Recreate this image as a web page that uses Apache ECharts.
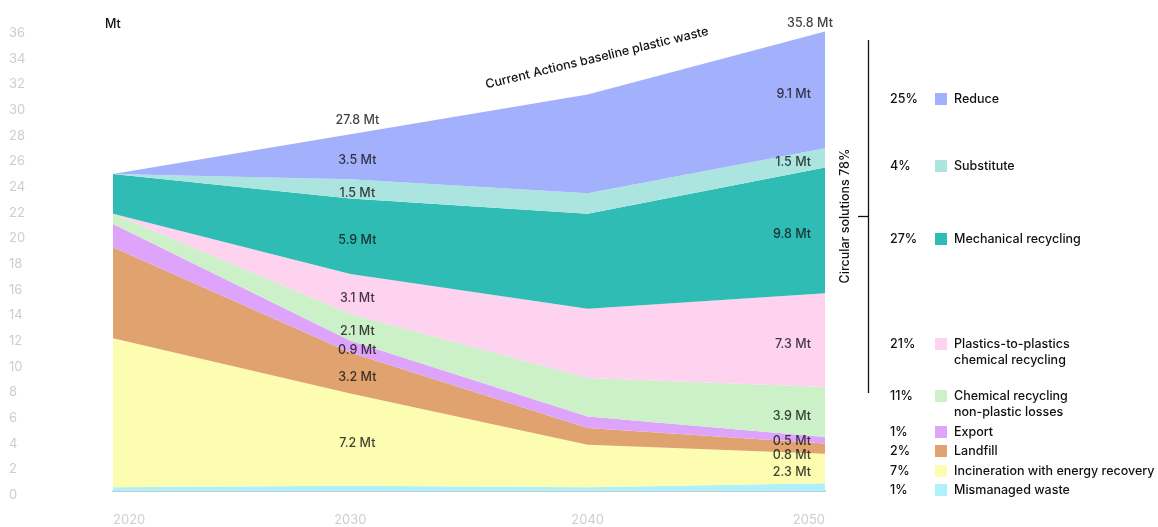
<!DOCTYPE html>
<html>
<head>
<meta charset="utf-8">
<script src="https://cdn.jsdelivr.net/npm/echarts@6/dist/echarts.min.js"></script>
<style>
  html, body { margin: 0; padding: 0; background: #ffffff; }
  #chart { width: 1158px; height: 527px; }
</style>
</head>
<body>
<div id="chart"></div>
<script>
// Plastic waste pathway, Mt per year
const years = ['2020', '2030', '2040', '2050'];
const yTicks = { min: 0, max: 36, step: 2 };

// Stack order, bottom to top
const mismanaged         = [0.3, 0.4, 0.3, 0.6];
const incineration       = [11.6, 7.2, 3.3, 2.3];
const landfill           = [7.1, 3.2, 1.3, 0.8];
const exportWaste        = [1.8, 0.9, 0.9, 0.5];
const chemLosses         = [0.8, 2.1, 3.0, 3.9];
const plasticsToPlastics = [0.0, 3.1, 5.4, 7.3];
const mechanical         = [3.1, 5.9, 7.4, 9.8];
const substitute         = [0.0, 1.5, 1.6, 1.5];
const reduce             = [0.0, 3.5, 7.7, 9.1];

// Share of 2050 waste handled by each route
const shares = {
  reduce: '25%', substitute: '4%', mechanical: '27%', plasticsToPlastics: '21%',
  chemLosses: '11%', exportWaste: '1%', landfill: '2%', incineration: '7%', mismanaged: '1%'
};
const circularLabel = 'Circular solutions 78%';
const baselineLabel = 'Current Actions baseline plastic waste';
const unitLabel = 'Mt';

// Years whose values are printed inside the bands
const labelledYears = [1, 3];

// nudge: extra vertical shift (px) for the thin 2050 bands so their labels do not collide
const layers = [
  { key: 'mismanaged',         name: 'Mismanaged waste',                         values: mismanaged,         color: '#aef0fb', labelled: false, nudge: 0 },
  { key: 'incineration',       name: 'Incineration with energy recovery',        values: incineration,       color: '#fdfdb1', labelled: true,  nudge: 0 },
  { key: 'landfill',           name: 'Landfill',                                 values: landfill,           color: '#e0a26f', labelled: true,  nudge: 3 },
  { key: 'exportWaste',        name: 'Export',                                   values: exportWaste,        color: '#dea3fb', labelled: true,  nudge: -3 },
  { key: 'chemLosses',         name: 'Chemical recycling\nnon-plastic losses',   values: chemLosses,         color: '#ccf0c7', labelled: true,  nudge: 0 },
  { key: 'plasticsToPlastics', name: 'Plastics-to-plastics\nchemical recycling', values: plasticsToPlastics, color: '#fdd3ef', labelled: true,  nudge: 0 },
  { key: 'mechanical',         name: 'Mechanical recycling',                     values: mechanical,         color: '#2ebcb4', labelled: true,  nudge: 0 },
  { key: 'substitute',         name: 'Substitute',                               values: substitute,         color: '#ace5e0', labelled: true,  nudge: 0 },
  { key: 'reduce',             name: 'Reduce',                                   values: reduce,             color: '#a3b1fd', labelled: true,  nudge: 0 }
];

const FONT = 'Inter, "Noto Sans", sans-serif';
const INK = '#111111';
const TEXT_WEIGHT = 500;

// Stacked areas
const areaSeries = layers.map(l => ({
  name: l.name,
  type: 'line',
  stack: 'waste',
  data: l.values,
  symbol: 'none',
  lineStyle: { width: 0 },
  areaStyle: { color: l.color, opacity: 1 },
  itemStyle: { color: l.color },
  silent: true,
  z: 2
}));

// Band-value labels placed at the middle of each band
const bandPoints = [];
const base = years.map(() => 0);
layers.forEach(l => {
  if (l.labelled) {
    labelledYears.forEach(i => {
      const v = l.values[i];
      const isLast = i === years.length - 1;
      bandPoints.push({
        value: [i, base[i] + v / 2, v],
        label: isLast
          ? { position: 'left', distance: 14, offset: [0, 4 + l.nudge] }
          : { position: 'inside', offset: [7, 4] }
      });
    });
  }
  years.forEach((_, i) => { base[i] += l.values[i]; });
});
const totals = base.map(v => Math.round(v * 10) / 10);

const totalPoints = labelledYears.map(i => ({
  value: [i, totals[i]],
  label: i === years.length - 1
    ? { position: 'top', distance: 2, offset: [-15, 0] }
    : { position: 'top', distance: 7, offset: [7, 0] }
}));

const labelSeries = [
  {
    type: 'scatter',
    data: bandPoints,
    symbolSize: 0,
    silent: true,
    z: 5,
    label: {
      show: true, color: INK, fontFamily: FONT, fontSize: 12.5, fontWeight: TEXT_WEIGHT,
      formatter: p => p.value[2].toFixed(1) + ' Mt'
    }
  },
  {
    type: 'scatter',
    data: totalPoints,
    symbolSize: 0,
    silent: true,
    z: 5,
    label: {
      show: true, color: INK, fontFamily: FONT, fontSize: 12.5, fontWeight: TEXT_WEIGHT,
      formatter: p => p.value[1].toFixed(1) + ' Mt'
    }
  }
];

// Right-hand key
const keyRows = [
  { key: 'reduce',             y: 99 },
  { key: 'substitute',         y: 166 },
  { key: 'mechanical',         y: 239 },
  { key: 'plasticsToPlastics', y: 344 },
  { key: 'chemLosses',         y: 396 },
  { key: 'exportWaste',        y: 432 },
  { key: 'landfill',           y: 451 },
  { key: 'incineration',       y: 471 },
  { key: 'mismanaged',         y: 490 }
];
const textFont = TEXT_WEIGHT + ' 12.5px ' + FONT;
const graphics = [];
keyRows.forEach(r => {
  const layer = layers.find(l => l.key === r.key);
  graphics.push({
    type: 'text', x: 890, y: r.y, silent: true,
    style: { text: shares[r.key], font: textFont, fill: INK, textAlign: 'left', textVerticalAlign: 'middle' }
  });
  graphics.push({
    type: 'rect', x: 935, y: r.y - 6, shape: { width: 12, height: 12 }, silent: true,
    style: { fill: layer.color }
  });
  layer.name.split('\n').forEach((line, k) => {
    graphics.push({
      type: 'text', x: 954, y: r.y + k * 16, silent: true,
      style: { text: line, font: textFont, fill: INK, textAlign: 'left', textVerticalAlign: 'middle' }
    });
  });
});

// Bracket for the circular solutions group
graphics.push({ type: 'line', silent: true, shape: { x1: 868.5, y1: 40, x2: 868.5, y2: 393 }, style: { stroke: '#111', lineWidth: 1.3 } });
graphics.push({ type: 'line', silent: true, shape: { x1: 858, y1: 216.5, x2: 868.5, y2: 216.5 }, style: { stroke: '#111', lineWidth: 1.3 } });
graphics.push({
  type: 'text', x: 845, y: 216, rotation: Math.PI / 2, silent: true,
  style: { text: circularLabel, font: textFont, fill: INK, textAlign: 'center', textVerticalAlign: 'middle' }
});
graphics.push({
  type: 'text', x: 597, y: 58, rotation: 0.237, silent: true,
  style: { text: baselineLabel, font: textFont, fill: INK, textAlign: 'center', textVerticalAlign: 'middle' }
});
graphics.push({
  type: 'text', x: 105, y: 24, silent: true,
  style: { text: unitLabel, font: textFont, fill: INK, textAlign: 'left', textVerticalAlign: 'middle' }
});

const chart = echarts.init(document.getElementById('chart'), null, { renderer: 'canvas' });
chart.setOption({
  animation: false,
  backgroundColor: '#ffffff',
  grid: { left: 113, right: 333, top: 29, bottom: 35 },
  xAxis: {
    type: 'category',
    data: years,
    boundaryGap: false,
    axisLine: { lineStyle: { color: '#c9c9c9', width: 2 } },
    axisTick: { show: false },
    axisLabel: {
      color: '#cdcdcd', fontFamily: FONT, fontSize: 13, margin: 23,
      alignMinLabel: 'left', alignMaxLabel: 'right'
    },
    z: 1
  },
  yAxis: {
    type: 'value',
    min: yTicks.min, max: yTicks.max, interval: yTicks.step,
    splitLine: { show: false },
    axisLine: { show: false },
    axisTick: { show: false },
    axisLabel: {
      color: '#cdcdcd', fontFamily: FONT, fontSize: 13, align: 'left', margin: 104,
      verticalAlign: 'top', lineHeight: 8
    }
  },
  series: areaSeries.concat(labelSeries),
  graphic: graphics
});
</script>
</body>
</html>
